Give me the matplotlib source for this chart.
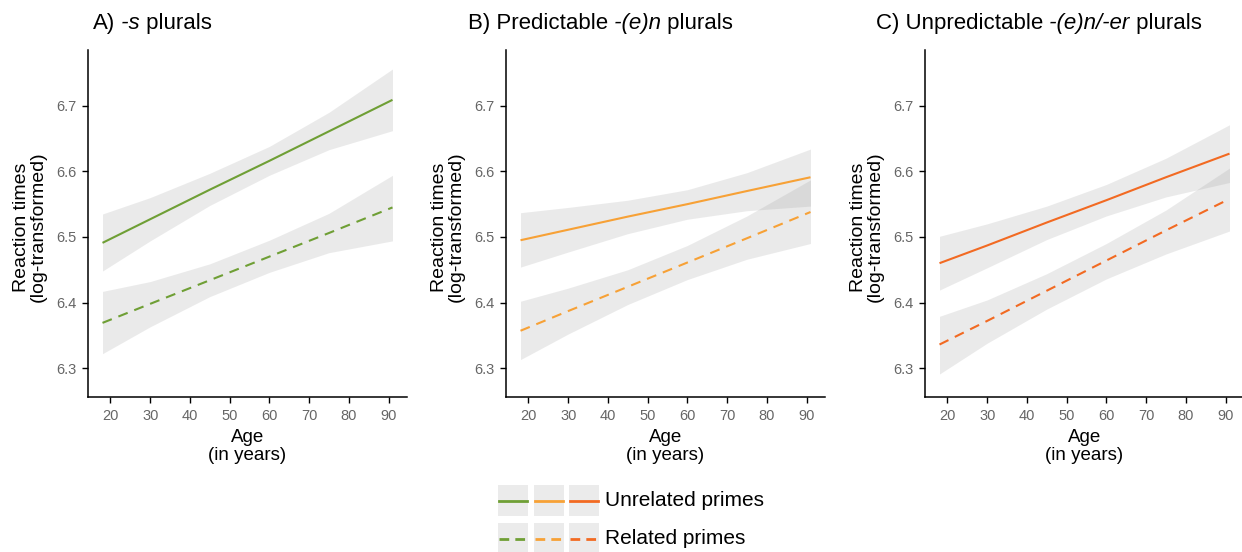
import numpy as np
import matplotlib.pyplot as plt
from matplotlib.patches import Rectangle

plt.rcParams['font.family'] = ['Liberation Sans', 'DejaVu Sans']

# model predictions (log RT) with confidence bands, read at these ages
age = np.array([18, 30, 45, 60, 75, 91])

# A) -s plurals
s_unrel    = [6.491, 6.527, 6.572, 6.616, 6.661, 6.709]
s_unrel_lo = [6.448, 6.494, 6.548, 6.594, 6.633, 6.662]
s_unrel_hi = [6.535, 6.560, 6.597, 6.638, 6.690, 6.756]
s_rel      = [6.369, 6.398, 6.434, 6.470, 6.506, 6.545]
s_rel_lo   = [6.322, 6.363, 6.409, 6.446, 6.476, 6.494]
s_rel_hi   = [6.417, 6.432, 6.459, 6.495, 6.536, 6.594]

# B) predictable -(e)n plurals
en_unrel    = [6.495, 6.511, 6.531, 6.550, 6.570, 6.591]
en_unrel_lo = [6.454, 6.477, 6.505, 6.527, 6.540, 6.547]
en_unrel_hi = [6.537, 6.545, 6.556, 6.572, 6.598, 6.634]
en_rel      = [6.357, 6.387, 6.424, 6.461, 6.498, 6.538]
en_rel_lo   = [6.313, 6.352, 6.397, 6.435, 6.466, 6.490]
en_rel_hi   = [6.402, 6.422, 6.450, 6.487, 6.532, 6.587]

# C) unpredictable -(e)n/-er plurals
er_unrel    = [6.460, 6.487, 6.522, 6.556, 6.591, 6.627]
er_unrel_lo = [6.419, 6.453, 6.496, 6.532, 6.561, 6.583]
er_unrel_hi = [6.501, 6.520, 6.547, 6.580, 6.620, 6.671]
er_rel      = [6.336, 6.372, 6.418, 6.464, 6.510, 6.558]
er_rel_lo   = [6.291, 6.338, 6.390, 6.436, 6.474, 6.509]
er_rel_hi   = [6.379, 6.404, 6.444, 6.490, 6.541, 6.605]

colours = ['#6f9f35', '#f7a136', '#f26a22']
titles = [('A)', ' -s', ' plurals'),
          ('B) Predictable', ' -(e)n', ' plurals'),
          ('C) Unpredictable', ' -(e)n/-er', ' plurals')]
series = [(s_unrel, s_unrel_lo, s_unrel_hi, s_rel, s_rel_lo, s_rel_hi),
          (en_unrel, en_unrel_lo, en_unrel_hi, en_rel, en_rel_lo, en_rel_hi),
          (er_unrel, er_unrel_lo, er_unrel_hi, er_rel, er_rel_lo, er_rel_hi)]

W, H = 1242, 552
fig = plt.figure(figsize=(W / 100, H / 100), dpi=100)

ax_left = [88, 506, 925]
title_x = [93, 468, 876]
dash = (4.8, 3.4)

for i in range(3):
    unrel, unrel_lo, unrel_hi, rel, rel_lo, rel_hi = series[i]
    c = colours[i]
    ax = fig.add_axes([ax_left[i] / W, 1 - 397 / H, 319 / W, 347 / H])
    ax.fill_between(age, unrel_lo, unrel_hi, color='#999999', alpha=0.2, lw=0, zorder=1)
    ax.fill_between(age, rel_lo, rel_hi, color='#999999', alpha=0.2, lw=0, zorder=1)
    ax.plot(age, unrel, color=c, lw=1.5, zorder=3, solid_capstyle='butt')
    ax.plot(age, rel, color=c, lw=1.5, zorder=3, dashes=dash)

    ax.set_xlim(14.35, 94.65)
    ax.set_ylim(6.256, 6.785)
    ax.set_xticks(range(20, 91, 10))
    ax.set_yticks([6.3, 6.4, 6.5, 6.6, 6.7])
    ax.set_yticklabels(['6.3', '6.4', '6.5', '6.6', '6.7'])
    for side in ['top', 'right']:
        ax.spines[side].set_visible(False)
    for side in ['left', 'bottom']:
        ax.spines[side].set_linewidth(1.1)
    ax.tick_params(axis='both', length=4.0, width=1.0, colors='black',
                   labelcolor='#666666', pad=4.5, labelsize=10.5)

    ax.set_xlabel('Age\n(in years)', fontsize=13.5, linespacing=1.1)
    ax.xaxis.set_label_coords(0.5, -0.143)
    ax.xaxis.label.set_va('center')
    ax.set_ylabel('Reaction times\n(log-transformed)', fontsize=14, linespacing=1.0)
    ax.yaxis.set_label_coords(-0.182, 0.49)
    ax.yaxis.label.set_va('center')

    # title: plain / italic suffix / plain
    plain1, ital, plain2 = titles[i]
    t1 = fig.text(title_x[i] / W, 1 - 34 / H, plain1, fontsize=16, va='bottom', ha='left')
    t2 = fig.text(0, 0, ital, fontsize=16, style='italic', va='bottom', ha='left')
    t3 = fig.text(0, 0, plain2, fontsize=16, va='bottom', ha='left')
    fig.canvas.draw()
    r = fig.canvas.get_renderer()
    bb = t1.get_window_extent(r)
    t2.set_position((bb.x1 / W, bb.y0 / H))
    bb = t2.get_window_extent(r)
    t3.set_position((bb.x1 / W, bb.y0 / H))

# legend drawn in pixel coordinates along the bottom
lg = fig.add_axes([0, 0, 1, 1], zorder=-1)
lg.set_xlim(0, W)
lg.set_ylim(H, 0)
lg.axis('off')
key_x = [498, 534, 569]
row_y = [485, 523]
for r_i, ls in enumerate(['solid', 'dashed']):
    for k, c in enumerate(colours):
        lg.add_patch(Rectangle((key_x[k], row_y[r_i]), 30, 31, color='#ebebeb', lw=0))
        y = row_y[r_i] + 15.5
        if ls == 'solid':
            lg.plot([key_x[k] + 1, key_x[k] + 29], [y, y], color=c, lw=2)
        else:
            lg.plot([key_x[k] + 1, key_x[k] + 29], [y, y], color=c, lw=2, dashes=(3.5, 2.2))
lg.text(605, 501, 'Unrelated primes', fontsize=15, va='center', ha='left')
lg.text(605, 539, 'Related primes', fontsize=15, va='center', ha='left')

fig.savefig('out.png', dpi=100)
